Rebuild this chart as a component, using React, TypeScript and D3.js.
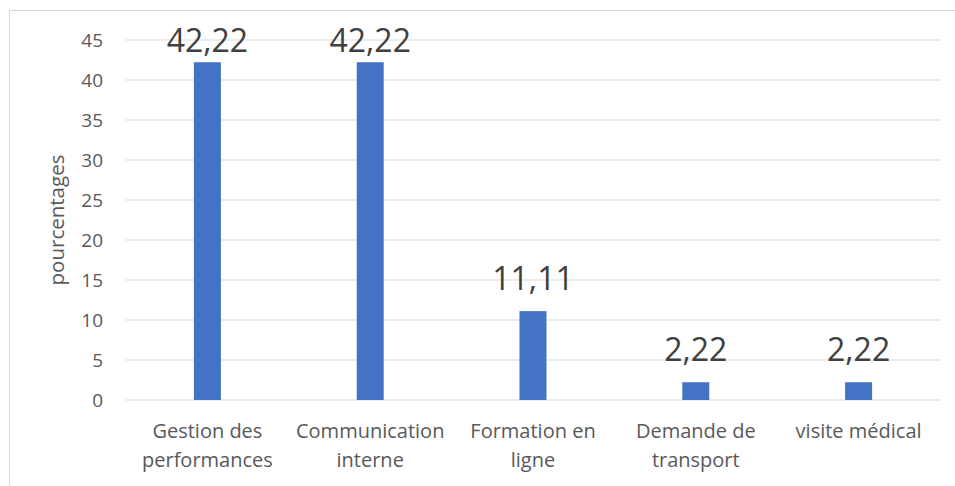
import React from 'react';
import * as d3 from 'd3';

const categories = [
  ['Gestion des', 'performances'],
  ['Communication', 'interne'],
  ['Formation en', 'ligne'],
  ['Demande de', 'transport'],
  ['visite médical'],
];
const values = [42.22, 42.22, 11.11, 2.22, 2.22];
const yTicks = [0, 5, 10, 15, 20, 25, 30, 35, 40, 45];

const W = 955;
const H = 486;
const plot = { left: 126, right: 940, top: 40, bottom: 400 };
const font = '"Open Sans", sans-serif';

const App = () => {
  const keys = categories.map((c) => c.join(' '));
  const x = d3.scaleBand().domain(keys).range([plot.left, plot.right]);
  const y = d3.scaleLinear().domain([0, 45]).range([plot.bottom, plot.top]);
  const barW = 27;
  const fmt = (v: number) => v.toFixed(2).replace('.', ',');

  return (
    <svg width={W} height={H} style={{ position: 'absolute', left: 0, top: 0 }} fontFamily={font}>
      <rect x={0} y={0} width={W} height={H} fill="#fff" />
      <rect x={9.5} y={10.5} width={W} height={H} fill="none" stroke="#d9d9d9" />
      {yTicks.map((t) => (
        <g key={t}>
          <line x1={plot.left} x2={plot.right} y1={y(t)} y2={y(t)} stroke="#d9d9d9" strokeWidth={1} />
          <text x={103} y={y(t)} dy="0.36em" textAnchor="end" fontSize={19} fill="#595959">
            {t}
          </text>
        </g>
      ))}
      {values.map((v, i) => {
        const cx = (x(keys[i]) as number) + x.bandwidth() / 2;
        return (
          <g key={i}>
            <rect x={cx - barW / 2} y={y(v)} width={barW} height={plot.bottom - y(v)} fill="#4472C4" />
            <text x={cx} y={Math.max(y(v) - 21, plot.top + 12)} textAnchor="middle" fontSize={32} fill="#404040">
              {fmt(v)}
            </text>
            {categories[i].map((line, j) => (
              <text key={j} x={cx} y={438 + j * 29} textAnchor="middle" fontSize={20} fill="#595959">
                {line}
              </text>
            ))}
          </g>
        );
      })}
      <text
        transform={`translate(64, ${(plot.top + plot.bottom) / 2}) rotate(-90)`}
        textAnchor="middle"
        fontSize={20.5}
        fill="#595959"
      >
        pourcentages
      </text>
    </svg>
  );
};

export default App;
